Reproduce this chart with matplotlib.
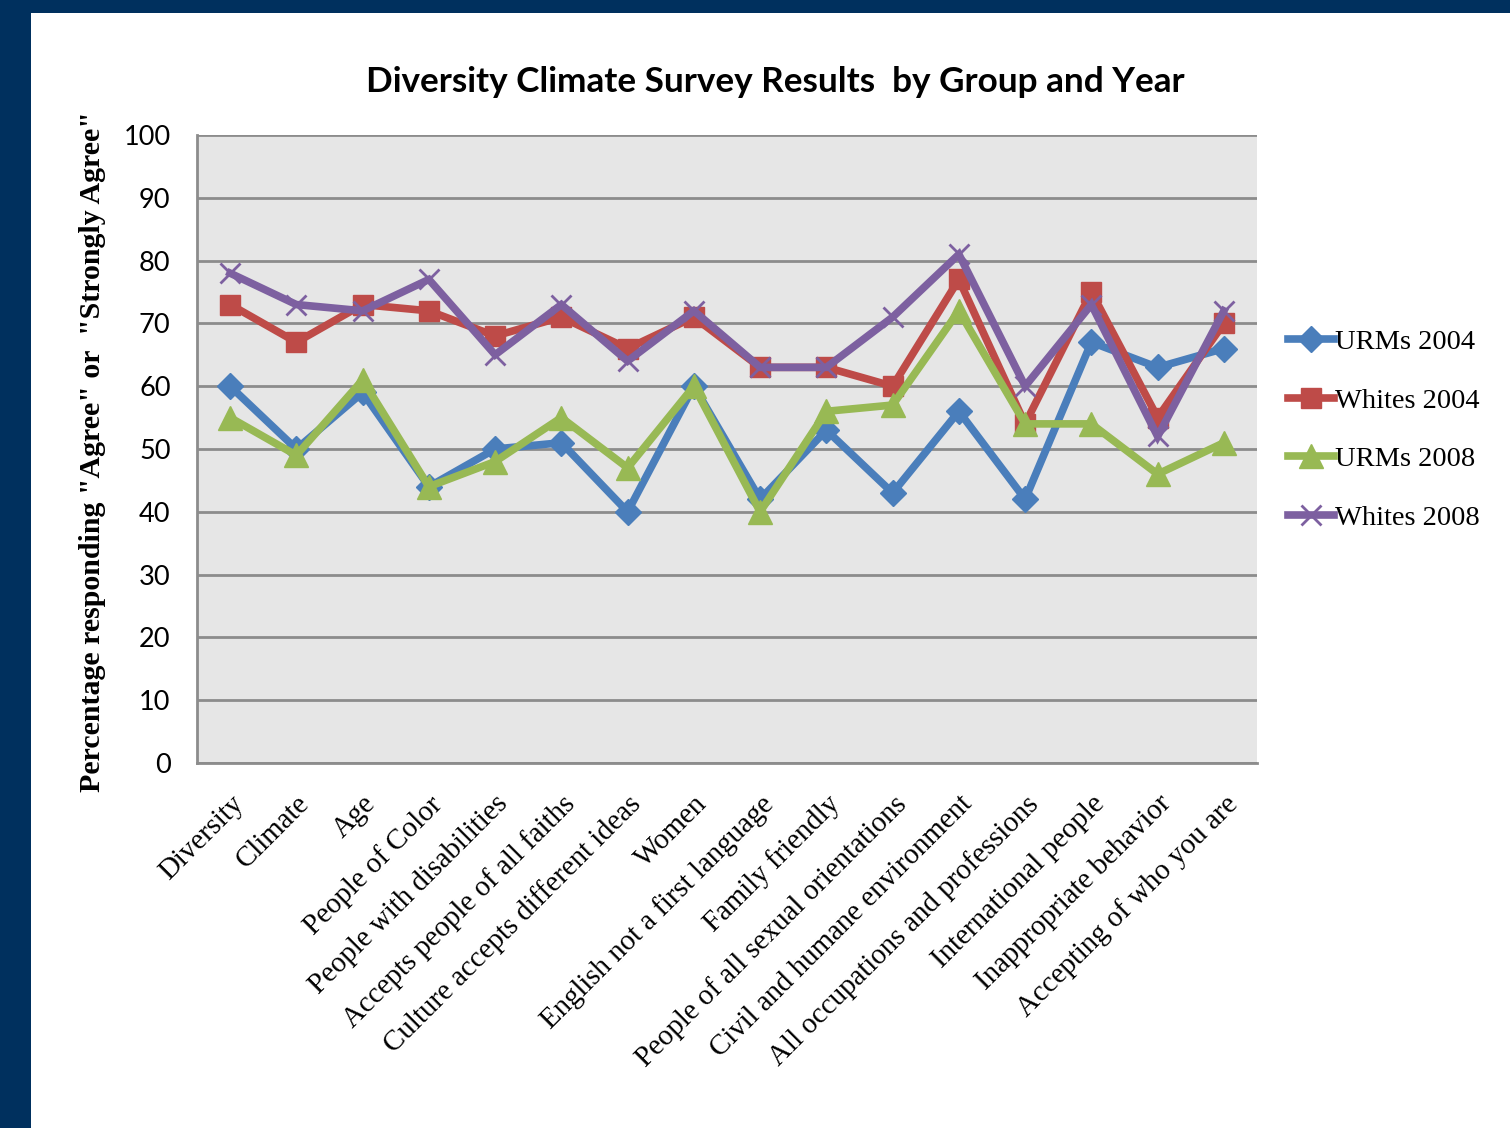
import matplotlib
matplotlib.use("Agg")
import matplotlib.pyplot as plt
from matplotlib.patches import Rectangle

# ---- data ----
categories = [
    "Diversity", "Climate", "Age", "People of Color", "People with disabilities",
    "Accepts people of all faiths", "Culture accepts different ideas", "Women",
    "English not a first language", "Family friendly",
    "People of all sexual orientations", "Civil and humane environment",
    "All occupations and professions", "International people",
    "Inappropriate behavior", "Accepting of who you are",
]
urms_2004 = [60, 50, 59, 44, 50, 51, 40, 60, 42, 53, 43, 56, 42, 67, 63, 66]
whites_2004 = [73, 67, 73, 72, 68, 71, 66, 71, 63, 63, 60, 77, 54, 75, 55, 70]
urms_2008 = [55, 49, 61, 44, 48, 55, 47, 60, 40, 56, 57, 72, 54, 54, 46, 51]
whites_2008 = [78, 73, 72, 77, 65, 73, 64, 72, 63, 63, 71, 81, 60, 73, 52, 72]
y_ticks = list(range(0, 101, 10))

# ---- figure ----
W, H = 1510, 1128
fig = plt.figure(figsize=(W / 100, H / 100), dpi=100)
fig.patch.set_facecolor("#00305e")
fig.add_artist(Rectangle((31 / W, 0), 1 - 31 / W, 1 - 13 / H,
                         transform=fig.transFigure, facecolor="white",
                         edgecolor="none", zorder=-5))

ax = fig.add_axes([197 / W, 1 - 763 / H, 1060 / W, 628 / H])
ax.set_facecolor("#e6e6e6")

x = list(range(len(categories)))
series = [
    ("URMs 2004", urms_2004, "#4a7ebb", "D", 13, 1),
    ("Whites 2004", whites_2004, "#be4b48", "s", 15, 1),
    ("URMs 2008", urms_2008, "#98b954", "^", 17, 1),
    ("Whites 2008", whites_2008, "#7d60a0", "x", 15, 2),
]
for name, vals, col, mk, ms, mew in series:
    ax.plot(x, vals, color=col, lw=5.5, marker=mk, markersize=ms,
            markeredgewidth=mew, markeredgecolor=col, label=name,
            solid_joinstyle="miter", zorder=3)

ax.set_xlim(-0.5, len(categories) - 0.5)
ax.set_ylim(0, 100)
ax.set_yticks(y_ticks)
ax.yaxis.grid(True, color="#8c8c8c", lw=2)
ax.set_axisbelow(True)
for s in ["top", "right"]:
    ax.spines[s].set_visible(False)
for s in ["left", "bottom"]:
    ax.spines[s].set_color("#8c8c8c")
    ax.spines[s].set_linewidth(2)

ax.tick_params(axis="y", length=0, pad=19, labelsize=19.5)
for t in ax.get_yticklabels():
    t.set_fontfamily("Lato")
ax.set_xticks(x)
ax.set_xticklabels(categories, rotation=45, ha="right", va="top",
                   rotation_mode="anchor", fontfamily="Liberation Serif",
                   fontsize=20.8)
ax.tick_params(axis="x", length=0, pad=20)

fig.text(775 / W, 1 - 82 / H, "Diversity Climate Survey Results  by Group and Year",
         ha="center", va="center", fontsize=25.3, fontweight="bold",
         fontfamily="Lato")
fig.text(93 / W, 1 - 452 / H,
         'Percentage responding "Agree" or  "Strongly Agree"',
         rotation=90, ha="center", va="center", fontsize=21.5,
         fontweight="bold", fontfamily="Liberation Serif")

leg = fig.legend(loc="center left", bbox_to_anchor=(1288 / W, 1 - 430 / H),
                 frameon=False, prop={"family": "Liberation Serif", "size": 20.5},
                 handlelength=1.6, handletextpad=0.05, labelspacing=1.15,
                 borderpad=0, borderaxespad=0)

fig.savefig("out.png", dpi=100, facecolor=fig.get_facecolor())
